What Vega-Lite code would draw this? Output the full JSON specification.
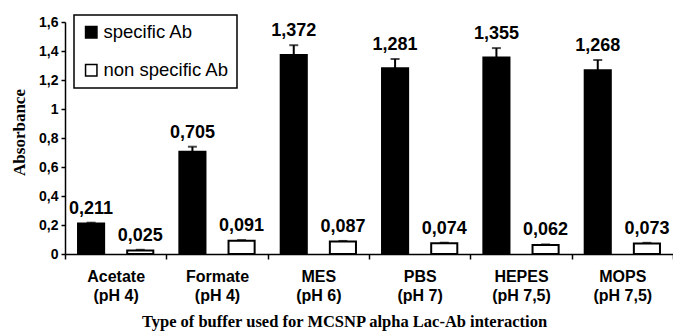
{
  "$schema": "https://vega.github.io/schema/vega-lite/v6.json",
  "width": 608,
  "height": 232,
  "autosize": {"type": "none"},
  "padding": {"left": 65, "top": 22, "right": 0, "bottom": 77},
  "config": {
    "locale": {"number": {"decimal": ",", "thousands": ".", "grouping": [3], "currency": ["", " €"]}},
    "view": {"stroke": null},
    "font": "Liberation Sans",
    "axis": {"domainColor": "black", "tickColor": "black", "labelColor": "black", "titleColor": "black", "grid": false, "domainWidth": 1.5, "tickWidth": 1.5},
    "axisY": {"labelOverlap": false, "labelFontSize": 14, "labelFontWeight": "bold", "tickSize": 4, "labelPadding": 3}
  },
  "data": {
    "values": [
      {"buffer": "Acetate (pH 4)", "ab": "specific Ab", "value": 0.211, "hi": 0.216},
      {"buffer": "Acetate (pH 4)", "ab": "non specific Ab", "value": 0.025, "hi": 0.029},
      {"buffer": "Formate (pH 4)", "ab": "specific Ab", "value": 0.705, "hi": 0.74},
      {"buffer": "Formate (pH 4)", "ab": "non specific Ab", "value": 0.091, "hi": 0.096},
      {"buffer": "MES (pH 6)", "ab": "specific Ab", "value": 1.372, "hi": 1.44},
      {"buffer": "MES (pH 6)", "ab": "non specific Ab", "value": 0.087, "hi": 0.09},
      {"buffer": "PBS (pH 7)", "ab": "specific Ab", "value": 1.281, "hi": 1.345},
      {"buffer": "PBS (pH 7)", "ab": "non specific Ab", "value": 0.074, "hi": 0.078},
      {"buffer": "HEPES (pH 7,5)", "ab": "specific Ab", "value": 1.355, "hi": 1.42},
      {"buffer": "HEPES (pH 7,5)", "ab": "non specific Ab", "value": 0.062, "hi": 0.066},
      {"buffer": "MOPS (pH 7,5)", "ab": "specific Ab", "value": 1.268, "hi": 1.338},
      {"buffer": "MOPS (pH 7,5)", "ab": "non specific Ab", "value": 0.073, "hi": 0.077}
    ]
  },
  "encoding": {
    "x": {
      "field": "buffer", "type": "nominal", "sort": null,
      "scale": {"paddingInner": 0, "paddingOuter": 0},
      "axis": {
        "labelAngle": 0, "labelFontSize": 16, "labelFontWeight": "bold",
        "labelExpr": "isString(datum.label) && length(split(datum.label, ' (')) > 1 ? [split(datum.label, ' (')[0], '(' + split(datum.label, ' (')[1]] : ''",
        "labelLineHeight": 19, "labelPadding": 9, "labelOverlap": false, "tickBand": "extent", "tickSize": 5,
        "title": "Type of buffer used for MCSNP alpha Lac-Ab interaction",
        "titleFont": "Liberation Serif", "titleFontSize": 16.5, "titleFontWeight": "bold",
        "titleX": 279, "titleY": 72, "titleBaseline": "alphabetic", "titleAlign": "center"
      }
    },
    "xOffset": {
      "field": "ab", "type": "nominal", "sort": ["specific Ab", "non specific Ab"],
      "scale": {"paddingInner": 0.469, "paddingOuter": 0.265}
    }
  },
  "layer": [
    {
      "mark": {"type": "bar", "stroke": "black", "strokeWidth": 2},
      "encoding": {
        "y": {
          "field": "value", "type": "quantitative",
          "scale": {"domain": [0, 1.6], "nice": false},
          "axis": {
            "values": [0, 0.2, 0.4, 0.6, 0.8, 1, 1.2, 1.4, 1.6], "labelOverlap": false, "format": ".1~f",
            "title": "Absorbance", "titleFont": "Liberation Serif", "titleFontSize": 17, "titleFontWeight": "bold",
            "titleX": -46, "titleY": 110, "titleAngle": 270, "titleBaseline": "middle", "titleAlign": "center"
          }
        },
        "fill": {
          "field": "ab", "type": "nominal",
          "scale": {"domain": ["specific Ab", "non specific Ab"], "range": ["black", "white"]},
          "legend": {
            "title": null, "orient": "none", "legendX": 9, "legendY": -7, "direction": "vertical",
            "labelFontSize": 18.5, "labelColor": "black", "labelOffset": 3,
            "symbolType": "square", "symbolSize": 130, "symbolStrokeColor": "black", "symbolStrokeWidth": 1.5,
            "strokeColor": "black", "fillColor": "white", "padding": 8, "rowPadding": 19,
            "encode": {"legend": {"update": {"strokeWidth": {"value": 1.5}}}}
          }
        }
      }
    },
    {
      "mark": {"type": "rule", "strokeWidth": 2, "color": "black"},
      "encoding": {
        "y": {
          "field": "value", "type": "quantitative",
          "axis": {
            "values": [0, 0.2, 0.4, 0.6, 0.8, 1, 1.2, 1.4, 1.6], "labelOverlap": false, "format": ".1~f",
            "title": "Absorbance", "titleFont": "Liberation Serif", "titleFontSize": 17, "titleFontWeight": "bold",
            "titleX": -46, "titleY": 110, "titleAngle": 270, "titleBaseline": "middle", "titleAlign": "center"
          }
        },
        "y2": {"field": "hi"}
      }
    },
    {
      "mark": {"type": "tick", "thickness": 2, "size": 9, "color": "black", "orient": "horizontal"},
      "encoding": {
        "y": {
          "field": "hi", "type": "quantitative",
          "axis": {
            "values": [0, 0.2, 0.4, 0.6, 0.8, 1, 1.2, 1.4, 1.6], "labelOverlap": false, "format": ".1~f",
            "title": "Absorbance", "titleFont": "Liberation Serif", "titleFontSize": 17, "titleFontWeight": "bold",
            "titleX": -46, "titleY": 110, "titleAngle": 270, "titleBaseline": "middle", "titleAlign": "center"
          }
        }
      }
    },
    {
      "mark": {"type": "text", "fontWeight": "bold", "fontSize": 18, "baseline": "alphabetic", "dy": -9, "color": "black"},
      "encoding": {
        "y": {
          "field": "hi", "type": "quantitative",
          "axis": {
            "values": [0, 0.2, 0.4, 0.6, 0.8, 1, 1.2, 1.4, 1.6], "labelOverlap": false, "format": ".1~f",
            "title": "Absorbance", "titleFont": "Liberation Serif", "titleFontSize": 17, "titleFontWeight": "bold",
            "titleX": -46, "titleY": 110, "titleAngle": 270, "titleBaseline": "middle", "titleAlign": "center"
          }
        },
        "text": {"field": "value", "type": "quantitative", "format": ".3f"}
      }
    }
  ]
}
